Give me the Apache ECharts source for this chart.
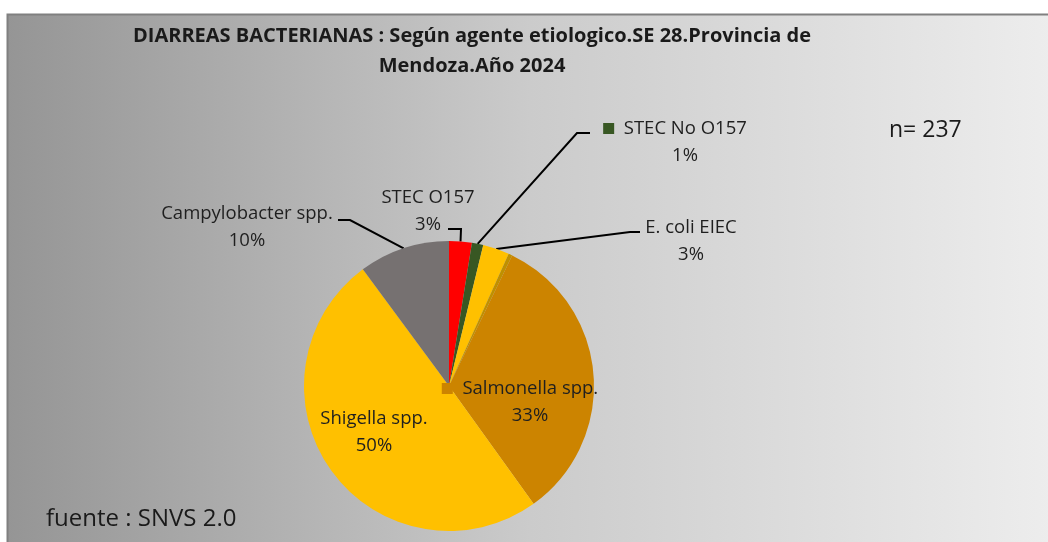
<!DOCTYPE html>
<html lang="es">
<head>
    <meta charset="UTF-8">
    <title>Diarreas bacterianas - Mendoza 2024</title>
    <script src="https://cdn.jsdelivr.net/npm/echarts@6/dist/echarts.min.js"></script>
    <style>
        html, body { margin: 0; padding: 0; background: #fff; }
        #chart { width: 1048px; height: 542px; }
    </style>
</head>
<body>
    <div id="chart"></div>
    <script type="text/javascript">
        // datos: casos por agente etiologico (n = 237)
        var agentes = ['STEC O157', 'STEC No O157', 'E. coli EIEC', 'Otros',
                       'Salmonella spp.', 'Shigella spp.', 'Campylobacter spp.'];
        var casos = [6, 3, 7, 1, 78, 118, 24];
        var colores = ['#FF0000', '#385723', '#FFC000', '#BF9000',
                       '#CC8400', '#FFC000', '#767171'];
        var conClave = [false, true, false, false, true, false, false]; // etiqueta con cuadrado de leyenda
        var sinEtiqueta = [false, false, false, true, false, false, false];

        // posicion de cada etiqueta (centro del bloque) y codo de la linea guia
        var posEtiqueta = [[428, 211], [675, 142], [691, 241], null, [520, 402], [374, 432], [247, 227]];
        var codos = [[[461, 229], [448, 229]],
                     [[577, 133], [590, 133]],
                     [[630, 232], [640, 232]],
                     null, null, null,
                     [[350, 220], [338, 220]]];

        var myChart = echarts.init(document.getElementById('chart'));

        var datos = agentes.map(function (n, i) {
            var item = {
                name: n,
                value: casos[i],
                itemStyle: { color: colores[i] }
            };
            if (sinEtiqueta[i]) {
                item.label = { show: false };
                item.labelLine = { show: false };
            } else if (!codos[i]) {
                item.labelLine = { show: false };
            }
            return item;
        });

        var fuente = '"Open Sans", "Noto Sans", sans-serif';

        var option = {
            animation: false,
            textStyle: { fontFamily: fuente },
            graphic: [
                {
                    type: 'rect',
                    silent: true,
                    z: -10,
                    shape: { x: 7.5, y: 14.5, width: 1045, height: 535 },
                    style: {
                        fill: new echarts.graphic.LinearGradient(0, 0, 1, 0, [
                            { offset: 0, color: '#959595' },
                            { offset: 0.5, color: '#CBCBCB' },
                            { offset: 1, color: '#EDEDED' }
                        ]),
                        stroke: '#808080',
                        lineWidth: 2
                    }
                },
                {
                    type: 'text',
                    left: 889, top: 119,
                    style: { text: 'n= 237', fontSize: 23, fill: '#1a1a1a', fontFamily: fuente }
                },
                {
                    type: 'text',
                    left: 46, top: 507,
                    style: { text: 'fuente : SNVS 2.0', fontSize: 24, fill: '#1a1a1a', fontFamily: fuente }
                }
            ],
            title: {
                text: 'DIARREAS BACTERIANAS : Según agente etiologico.SE 28.Provincia de\nMendoza.Año 2024',
                left: 467,
                top: 16,
                textAlign: 'center',
                textStyle: {
                    fontFamily: fuente,
                    fontSize: 20,
                    fontWeight: 'bold',
                    color: '#1a1a1a',
                    lineHeight: 30
                }
            },
            series: [
                {
                    type: 'pie',
                    center: [449, 386],
                    radius: 145,
                    startAngle: 90,
                    clockwise: true,
                    avoidLabelOverlap: false,
                    data: datos,
                    label: {
                        show: true,
                        position: 'outside',
                        color: '#1f1f1f',
                        fontSize: 18.5,
                        lineHeight: 27,
                        align: 'center',
                        formatter: function (p) {
                            var pct = Math.round(p.percent) + '%';
                            if (conClave[p.dataIndex]) {
                                return '{k|}  ' + p.name + '\n{p|' + pct + '}';
                            }
                            return p.name + '\n' + pct;
                        },
                        rich: {
                            k: { width: 11, height: 11, backgroundColor: 'inherit' },
                            p: { fontSize: 18.5, color: '#1f1f1f', padding: [0, 0, 0, 20] }
                        }
                    },
                    labelLine: {
                        show: true,
                        lineStyle: { color: '#000', width: 2 }
                    },
                    labelLayout: function (params) {
                        var i = params.dataIndex;
                        var pos = posEtiqueta[i];
                        if (!pos) return {};
                        var out = {
                            x: pos[0],
                            y: pos[1],
                            align: 'center',
                            verticalAlign: 'middle'
                        };
                        if (codos[i] && params.labelLinePoints) {
                            out.labelLinePoints = [params.labelLinePoints[0]].concat(codos[i]);
                        }
                        return out;
                    }
                }
            ]
        };
        myChart.setOption(option);
    </script>
</body>
</html>
